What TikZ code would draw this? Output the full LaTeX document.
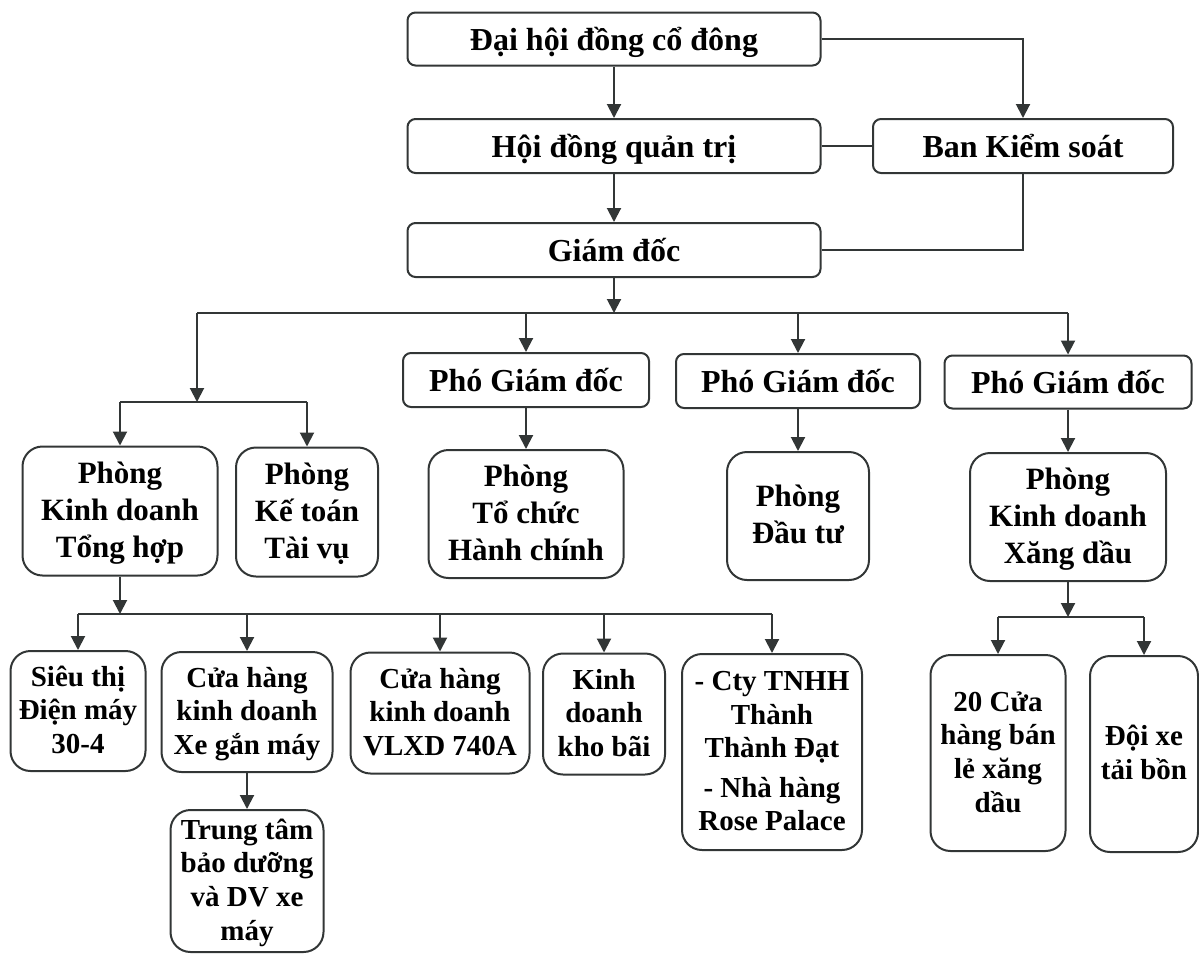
\documentclass[tikz,border=0pt]{standalone}
\usepackage{fontspec}
\setmainfont{Liberation Serif}
\usetikzlibrary{arrows.meta}
\definecolor{cus-line}{RGB}{50, 54, 54}
\tikzset{
	box/.style={draw=cus-line,line width=1pt,rounded corners=4pt,align=center,inner sep=0pt,
		font=\fontsize{16}{18.5}\selectfont\bfseries,text height=16.4pt,text depth=4.8pt},
	tallbox/.style={box,rounded corners=10pt,font=\fontsize{15.5}{18.5}\selectfont\bfseries,
		text height=#1,text depth=4.65pt},
	lowbox/.style={box,rounded corners=10pt,font=\fontsize{14.5}{16.8}\selectfont\bfseries,
		text height=#1,text depth=4.35pt},
	arr/.style={draw=cus-line,line width=1pt,-{Triangle[length=7pt,width=7pt]}},
	lin/.style={draw=cus-line,line width=1pt}
}

\begin{document}
\begin{tikzpicture}[x=0.5pt,y=-0.5pt]
\useasboundingbox (0,0) rectangle (1199,954);

\node [box,minimum width=206.5pt,minimum height=26.5pt] (dhcd) at (614,39) {Đại hội đồng cổ đông};
\node [box,minimum width=206.5pt,minimum height=27pt] (hdqt) at (614,146) {Hội đồng quản trị};
\node [box,minimum width=150pt,minimum height=27pt] (bks) at (1023,146) {Ban Kiểm soát};
\node [box,minimum width=206.5pt,minimum height=27pt] (gd) at (614,250) {Giám đốc};

\node [box,minimum width=123pt,minimum height=27pt] (pgd1) at (526,380) {Phó Giám đốc};
\node [box,minimum width=122pt,minimum height=27pt] (pgd2) at (798,381) {Phó Giám đốc};
\node [box,minimum width=123.5pt,minimum height=26.5pt] (pgd3) at (1068,382) {Phó Giám đốc};

\node [tallbox=50.95pt,minimum width=97.5pt,minimum height=64.5pt] (kdth) at (120,511) {Phòng\\Kinh doanh\\Tổng hợp};
\node [tallbox=50.95pt,minimum width=71pt,minimum height=64.5pt] (kttv) at (307,512) {Phòng\\Kế toán\\Tài vụ};
\node [tallbox=50.95pt,minimum width=97.5pt,minimum height=64pt] (tchc) at (526,514) {Phòng\\Tổ chức\\Hành chính};
\node [tallbox=32.45pt,minimum width=71pt,minimum height=64pt] (dt) at (798,516) {Phòng\\Đầu tư};
\node [tallbox=50.95pt,minimum width=98pt,minimum height=64pt] (kdxd) at (1068,517) {Phòng\\Kinh doanh\\Xăng dầu};

\node [lowbox=46.65pt,minimum width=67.5pt,minimum height=60pt] (st) at (78,711) {Siêu thị\\Điện máy\\30-4};
\node [lowbox=46.65pt,minimum width=85.5pt,minimum height=60pt] (xgm) at (247,712) {Cửa hàng\\kinh doanh\\Xe gắn máy};
\node [lowbox=46.65pt,minimum width=89.5pt,minimum height=60.5pt] (vlxd) at (440,713) {Cửa hàng\\kinh doanh\\VLXD 740A};
\node [lowbox=46.65pt,minimum width=61pt,minimum height=60.5pt] (kb) at (604,714) {Kinh\\doanh\\kho bãi};
\node [lowbox=83.25pt,minimum width=90pt,minimum height=98pt] (cty) at (772,752) {- Cty TNHH\\Thành\\Thành Đạt\\[3pt]- Nhà hàng\\Rose Palace};
\node [lowbox=63.45pt,minimum width=76.5pt,minimum height=71pt] (ttbd) at (247,881) {Trung tâm\\bảo dưỡng\\và DV xe\\máy};
\node [lowbox=63.45pt,minimum width=67.5pt,minimum height=98pt] (ch20) at (998,753) {20 Cửa\\hàng bán\\lẻ xăng\\dầu};
\node [lowbox=29.85pt,minimum width=54pt,minimum height=98pt] (dx) at (1144,754) {Đội xe\\tải bồn};

\coordinate (b1) at (614,313);
\coordinate (b1l) at (197,313);
\coordinate (b2) at (197,402);
\coordinate (b3) at (120,614);
\coordinate (b4) at (1068,617);

\draw [arr] (dhcd) -- (hdqt);
\draw [arr] (hdqt) -- (gd);
\draw [arr] (dhcd) -| (bks);
\draw [lin] (hdqt) -- (bks);
\draw [lin] (bks) |- (gd);

\draw [arr] (gd) -- (b1);
\draw [lin] (b1l) -- (b1l -| pgd3);
\draw [arr] (b1l) -- (b2);
\draw [lin] (kdth |- b2) -- (kttv |- b2);
\draw [arr] (kdth |- b2) -- (kdth);
\draw [arr] (kttv |- b2) -- (kttv);
\draw [arr] (pgd1 |- b1) -- (pgd1);
\draw [arr] (pgd2 |- b1) -- (pgd2);
\draw [arr] (pgd3 |- b1) -- (pgd3);
\draw [arr] (pgd1) -- (tchc);
\draw [arr] (pgd2) -- (dt);
\draw [arr] (pgd3) -- (kdxd);

\draw [arr] (kdth) -- (b3);
\draw [lin] (st |- b3) -- (cty |- b3);
\foreach \n in {st,xgm,vlxd,kb,cty}
	\draw [arr] (\n |- b3) -- (\n);
\draw [arr] (xgm) -- (ttbd);

\draw [arr] (kdxd) -- (b4);
\draw [lin] (ch20 |- b4) -- (dx |- b4);
\draw [arr] (ch20 |- b4) -- (ch20);
\draw [arr] (dx |- b4) -- (dx);
\end{tikzpicture}
\end{document}
